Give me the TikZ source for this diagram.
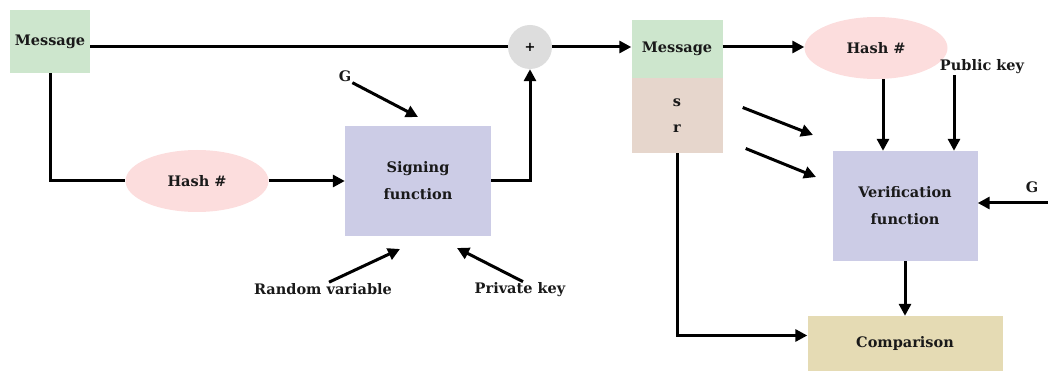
\documentclass[tikz,border=0pt]{standalone}
\usepackage{fontspec}
\setmainfont{DejaVu Serif}
\usetikzlibrary{shapes.geometric,arrows.meta}

\definecolor{msggreen}{RGB}{205,230,205}
\definecolor{hashpink}{RGB}{252,221,221}
\definecolor{funcblue}{RGB}{204,204,230}
\definecolor{srbrown}{RGB}{230,214,204}
\definecolor{compsand}{RGB}{229,219,180}
\definecolor{plusgray}{RGB}{221,221,221}

\tikzset{
  lbl/.style={font=\fontsize{14.5}{17}\selectfont\bfseries, text=black!90, inner sep=1pt},
  block/.style={lbl, rectangle, inner sep=0pt},
  msgbox/.style={block, fill=msggreen, minimum width=80, minimum height=63},
  hashnode/.style={lbl, ellipse, fill=hashpink, minimum width=143, minimum height=62},
  funcbox/.style={block, fill=funcblue, minimum width=146, minimum height=110, align=center,
    font=\fontsize{14.5}{27}\selectfont\bfseries},
  link/.style={line width=3pt},
  arrow/.style={link, -{Triangle[length=12pt,width=12pt]}}
}

\begin{document}
\begin{tikzpicture}[x=1pt, y=-1pt]
\useasboundingbox (0,0) rectangle (1048,371);

\node[msgbox] (msg) at (50,41.5) {Message};
\node[circle, fill=plusgray, minimum size=44, inner sep=0pt, font=\fontsize{13}{15}\selectfont\bfseries] (plus) at (530,47) {+};
\node[hashnode] (hash) at (197,181) {Hash \#};
\node[funcbox] (sign) at (418,181) {Signing\\function};
\node[lbl] (gsign) at (345,76) {G};
\node[lbl] (randvar) at (323,289) {Random variable};
\node[lbl] (privkey) at (520,290) {Private key};
\coordinate (gsignend) at (418,117);
\coordinate (randvarend) at (400,249);
\coordinate (privkeyend) at (457,248);

\node[block, fill=msggreen, minimum width=91, minimum height=58] (msgrx) at (677,49) {Message};
\node[block, fill=srbrown, minimum width=91, minimum height=75, align=center,
      font=\fontsize{14.5}{26}\selectfont\bfseries] (sr) at (677,115.5) {s\\r};
\node[hashnode] (hashrx) at (876,48) {Hash \#};
\node[lbl] (pubkey) at (982,67) {Public key};
\node[funcbox, minimum width=145] (verif) at (905,206) {Verification\\function};
\node[lbl] (gverif) at (1032,187) {G};
\coordinate (gverifstart) at (1048,203);
\coordinate (sendend) at (813,135);
\coordinate (rendend) at (816,177);
\node[block, fill=compsand, minimum width=195, minimum height=55] (comp) at (905,343.5) {Comparison};

\draw[link] (msg.east |- plus) -- (plus.west);
\draw[arrow] (plus.east) -- (msgrx.west |- plus);
\draw[link] (msg.south) |- (hash.west);
\draw[arrow] (hash.east) -- (sign.west);
\draw[arrow] (sign.east) -| (plus.south);
\draw[arrow] (gsign.south east) -- (gsignend);
\draw[arrow] ([xshift=6pt]randvar.north) -- (randvarend);
\draw[arrow] ([xshift=3pt]privkey.north) -- (privkeyend);

\draw[arrow] (msgrx.east |- plus) -- (hashrx.west |- plus);
\draw[arrow] ([xshift=7pt]hashrx.south) -- ([xshift=7pt]hashrx.south |- verif.north);
\draw[arrow] ([xshift=-28pt]pubkey.south) -- ([xshift=-28pt]pubkey.south |- verif.north);
\draw[arrow] ([shift={(20,-8)}]sr.east) -- (sendend);
\draw[arrow] ([shift={(23,33)}]sr.east) -- (rendend);
\draw[arrow] (gverifstart) -- (gverifstart -| verif.east);
\draw[arrow] (verif.south) -- (verif.south |- comp.north);
\draw[arrow] (sr.south) |- ([yshift=8pt]comp.west);
\end{tikzpicture}
\end{document}
